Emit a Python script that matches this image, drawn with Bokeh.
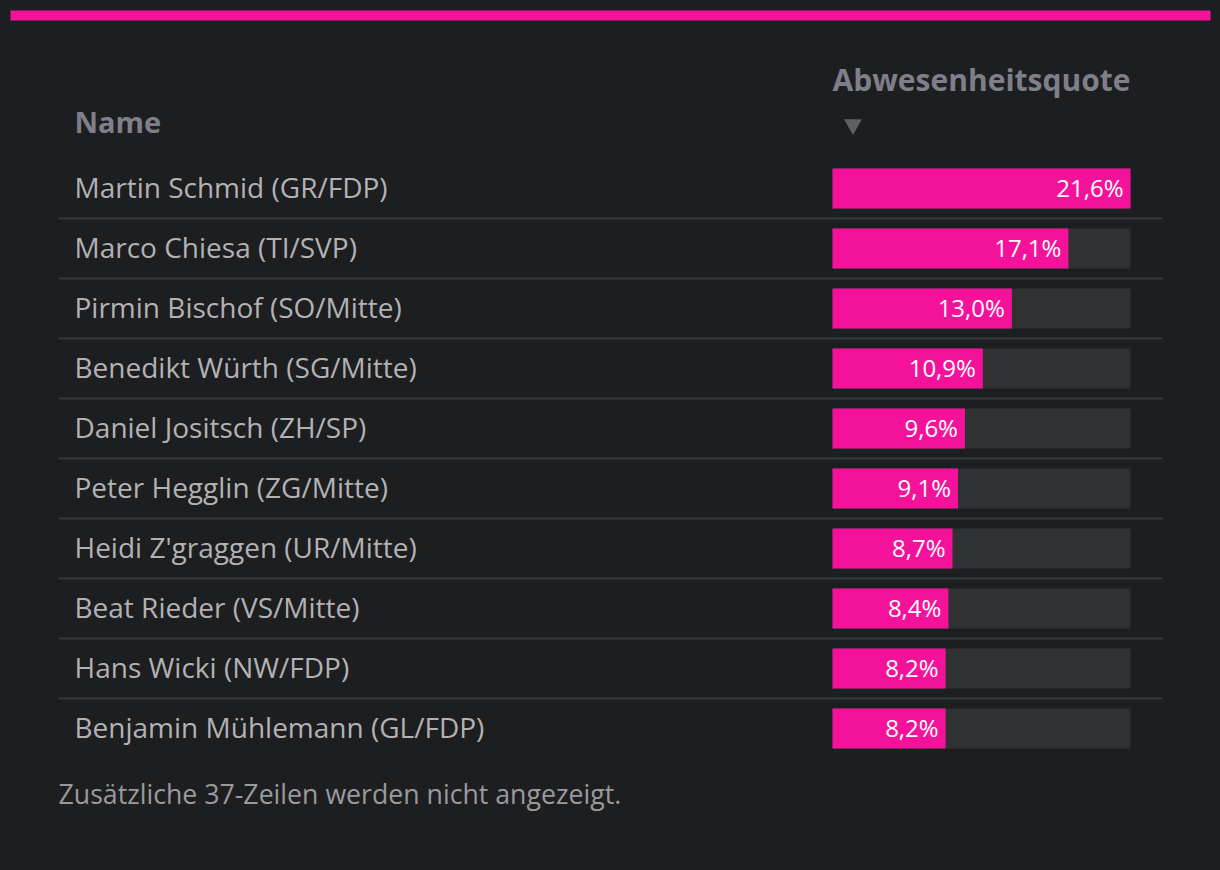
from bokeh.plotting import figure
from bokeh.models import Range1d, GlobalInlineStyleSheet
from bokeh.core.properties import value
from bokeh.embed import file_html
from bokeh.resources import INLINE

# ---- data ----
names = [
    "Martin Schmid (GR/FDP)",
    "Marco Chiesa (TI/SVP)",
    "Pirmin Bischof (SO/Mitte)",
    "Benedikt Würth (SG/Mitte)",
    "Daniel Jositsch (ZH/SP)",
    "Peter Hegglin (ZG/Mitte)",
    "Heidi Z'graggen (UR/Mitte)",
    "Beat Rieder (VS/Mitte)",
    "Hans Wicki (NW/FDP)",
    "Benjamin Mühlemann (GL/FDP)",
]
quote = [21.6, 17.1, 13.0, 10.9, 9.6, 9.1, 8.7, 8.4, 8.2, 8.2]
labels = ["21,6%", "17,1%", "13,0%", "10,9%", "9,6%", "9,1%", "8,7%", "8,4%", "8,2%", "8,2%"]
header_name = "Name"
header_value = "Abwesenheitsquote"
footer_text = "Zusätzliche 37-Zeilen werden nicht angezeigt."

# ---- layout (pixels within the figure) ----
W, H = 1204, 854
BG = "#1d1e20"
PINK = "#f5129b"
TRACK = "#303133"
SEP = "#37383b"
FONT = "Open Sans"

BAR_X0 = 824      # pixel where 0 % sits
BAR_W = 298       # pixel length of the maximum value
ROW0 = 180        # pixel centre of the first row
ROW_H = 60

max_v = max(quote)
ppu = BAR_W / max_v
x_start = -BAR_X0 / ppu
x_end = x_start + W / ppu
y_top = -ROW0 / ROW_H
y_bot = y_top + H / ROW_H


def X(px):
    return x_start + px / ppu


def Y(py):
    return y_top + py / ROW_H


rows = list(range(len(names)))

p = figure(width=W, height=H, x_range=Range1d(x_start, x_end),
           y_range=Range1d(y_bot, y_top), output_backend="svg",
           toolbar_location=None, min_border=0,
           background_fill_color=BG, border_fill_color=BG,
           outline_line_color=None)
p.axis.visible = False
p.grid.visible = False
p.stylesheets = [GlobalInlineStyleSheet(
    css=f"html {{ background: {BG}; }} body {{ background: {BG}; margin: 8px; padding: 0; overflow: hidden; }}")]

# top accent stripe
p.quad(left=[X(2)], right=[X(1202)], top=[Y(2)], bottom=[Y(12)],
       fill_color=PINK, line_color=None)

# row separators
sep_y = [r + 0.5 for r in rows[:-1]]
p.segment(x0=[X(50)] * len(sep_y), x1=[X(1154)] * len(sep_y),
          y0=sep_y, y1=sep_y, line_color=SEP, line_width=2)

# bars: track + value
bh = 40 / ROW_H
p.hbar(y=rows, left=0, right=[max_v] * len(rows), height=bh,
       fill_color=TRACK, line_color=None)
p.hbar(y=rows, left=0, right=quote, height=bh,
       fill_color=PINK, line_color=None)

# value labels
p.text(x=quote, y=rows, text=labels, x_offset=-7, y_offset=-1,
       text_align="right", text_baseline="middle", text_color="#ffffff",
       text_font=value(FONT), text_font_size="24px")

# names
p.text(x=[X(66)] * len(rows), y=rows, text=names, y_offset=-2,
       text_align="left", text_baseline="middle", text_color="#b2b2b4",
       text_font=value(FONT), text_font_size="28px")

# headers
p.text(x=[X(66)], y=[Y(113)], text=[header_name], text_align="left",
       text_baseline="middle", text_color="#7e7f89",
       text_font=value(FONT), text_font_size="29px", text_font_style="bold")
p.text(x=[0], y=[Y(71)], text=[header_value], text_align="left",
       text_baseline="middle", text_color="#7e7f89",
       text_font=value(FONT), text_font_size="30px", text_font_style="bold")
p.scatter(x=[X(844.5)], y=[Y(116)], marker="inverted_triangle", size=18,
          fill_color="#5e5f63", line_color=None)

# footer
p.text(x=[X(50)], y=[Y(785)], text=[footer_text], text_align="left",
       text_baseline="middle", text_color="#9a9a9c",
       text_font=value(FONT), text_font_size="26.7px")

open("out.html", "w").write(file_html(p, INLINE))
